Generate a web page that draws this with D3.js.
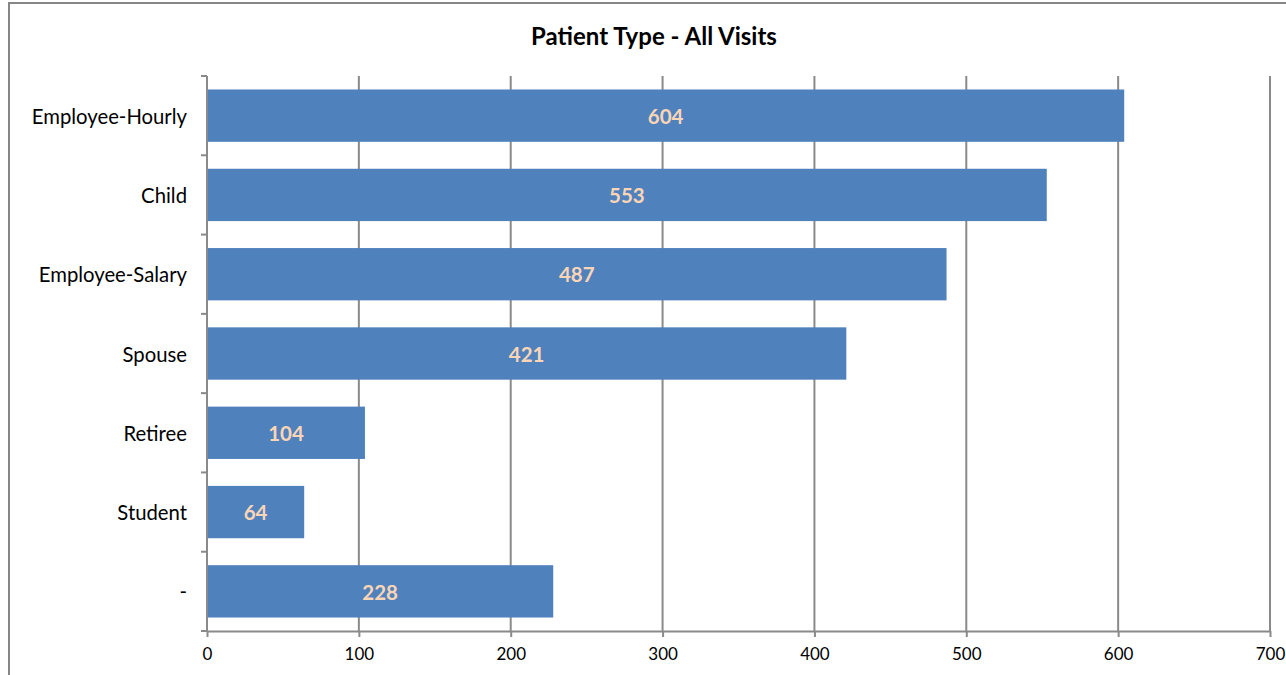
<!DOCTYPE html>
<html>
<head>
<meta charset="utf-8">
<script src="https://cdn.jsdelivr.net/npm/d3@7"></script>
<style>
  html, body { margin: 0; padding: 0; background: #fff; }
  svg { display: block; }
  text { font-family: Lato, "Open Sans", sans-serif; }
</style>
</head>
<body>
<svg id="chart" width="1286" height="675"></svg>
<script>
// Patient types and visit counts
const categories = ["Employee-Hourly", "Child", "Employee-Salary", "Spouse", "Retiree", "Student", "-"];
const visits = [604, 553, 487, 421, 104, 64, 228];
const xTicks = [0, 100, 200, 300, 400, 500, 600, 700];
const title = "Patient Type - All Visits";

const svg = d3.select("#chart");

// Chart frame (runs off the right and bottom edges)
svg.append("rect")
  .attr("x", 9).attr("y", 3)
  .attr("width", 1300).attr("height", 700)
  .attr("fill", "#fff")
  .attr("stroke", "#868686")
  .attr("stroke-width", 2);

const plot = { left: 207, right: 1270, top: 76, bottom: 631 };

const x = d3.scaleLinear().domain([0, 700]).range([plot.left, plot.right]);
const y = d3.scaleBand().domain(categories)
  .range([plot.top, plot.bottom])
  .paddingInner(0.34).paddingOuter(0.17);

// Vertical gridlines
svg.append("g")
  .selectAll("line")
  .data(xTicks.slice(1))
  .join("line")
  .attr("x1", d => x(d)).attr("x2", d => x(d))
  .attr("y1", plot.top).attr("y2", plot.bottom)
  .attr("stroke", "#8a8a8a")
  .attr("stroke-width", 2);

// Bars
svg.append("g")
  .selectAll("rect")
  .data(categories)
  .join("rect")
  .attr("x", x(0))
  .attr("y", d => y(d))
  .attr("width", (d, i) => x(visits[i]) - x(0))
  .attr("height", y.bandwidth())
  .attr("fill", "#4f81bd");

// Bottom axis
const xAxis = svg.append("g")
  .attr("transform", `translate(0,${plot.bottom})`)
  .call(d3.axisBottom(x).tickValues(xTicks).tickSize(6).tickPadding(11).tickSizeOuter(0));
xAxis.select(".domain").attr("stroke", "#8a8a8a").attr("stroke-width", 2);
xAxis.selectAll(".tick line").attr("stroke", "#8a8a8a").attr("stroke-width", 2);
xAxis.selectAll(".tick text")
  .attr("fill", "#000")
  .style("font-size", "17px")
  .style("font-family", "Lato, 'Open Sans', sans-serif");

// Left axis: line plus ticks at category boundaries
const yAxisG = svg.append("g");
yAxisG.append("line")
  .attr("x1", plot.left).attr("x2", plot.left)
  .attr("y1", plot.top).attr("y2", plot.bottom)
  .attr("stroke", "#8a8a8a").attr("stroke-width", 2);
const boundaries = categories.map(c => y(c) - y.step() * y.paddingInner() / 2)
  .concat([plot.bottom]);
yAxisG.selectAll("line.tick")
  .data(boundaries)
  .join("line")
  .attr("class", "tick")
  .attr("x1", plot.left - 6).attr("x2", plot.left)
  .attr("y1", d => d).attr("y2", d => d)
  .attr("stroke", "#8a8a8a").attr("stroke-width", 2);

// Category labels
yAxisG.selectAll("text")
  .data(categories)
  .join("text")
  .attr("x", 187)
  .attr("y", d => y(d) + y.bandwidth() / 2 + 1)
  .attr("dy", "0.35em")
  .attr("text-anchor", "end")
  .attr("fill", "#000")
  .style("font-size", "20.3px")
  .text(d => d);

// Value labels inside bars
svg.append("g")
  .selectAll("text")
  .data(categories)
  .join("text")
  .attr("x", (d, i) => (x(0) + x(visits[i])) / 2)
  .attr("y", d => y(d) + y.bandwidth() / 2 + 1)
  .attr("dy", "0.35em")
  .attr("text-anchor", "middle")
  .attr("fill", "#fbd5b5")
  .style("font-size", "20.5px")
  .style("font-weight", "bold")
  .text((d, i) => visits[i]);

// Title
svg.append("text")
  .attr("x", 654).attr("y", 37)
  .attr("dy", "0.35em")
  .attr("text-anchor", "middle")
  .attr("fill", "#000")
  .style("font-size", "24px")
  .style("font-weight", "bold")
  .text(title);
</script>
</body>
</html>
